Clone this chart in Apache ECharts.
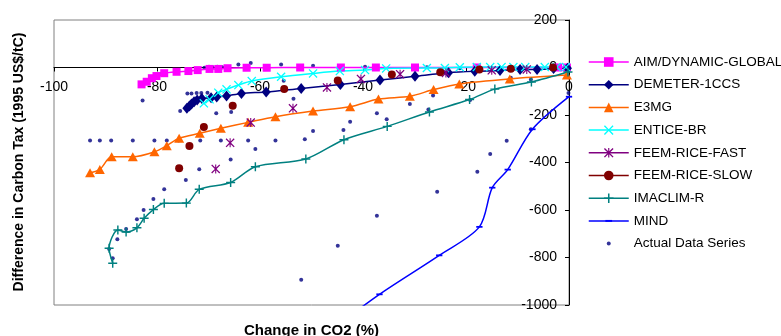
<!DOCTYPE html>
<html><head><meta charset="utf-8">
<script src="https://cdn.jsdelivr.net/npm/echarts@6/dist/echarts.min.js"></script>
<style>html,body{margin:0;padding:0;background:#fff}#c{width:781px;height:336px}</style>
</head><body><div id="c"></div>
<script>
const xTicks = [-100, -80, -60, -40, -20, 0];
const yTicks = [200, 0, -200, -400, -600, -800, -1000];
const seriesNames = ['AIM/DYNAMIC-GLOBAL','DEMETER-1CCS','E3MG','ENTICE-BR','FEEM-RICE-FAST','FEEM-RICE-SLOW','IMACLIM-R','MIND','Actual Data Series'];

const aim = [[-83.0,-71],[-82.0,-60],[-81.0,-45],[-80.1,-36],[-78.6,-24],[-76.2,-18],[-73.9,-15],[-72.1,-11],[-69.8,-6],[-68.1,-6],[-66.3,-3],[-62.6,-1],[-58.7,-1],[-52.2,0],[-44.3,0],[-37.5,0],[-29.9,0],[-17.9,0],[-2.1,0],[-0.4,0]];
const demeter = [[-74.2,-172],[-73.7,-162],[-73.3,-154],[-72.8,-144],[-72.2,-137],[-71.3,-130],[-69.5,-127],[-68.4,-124],[-66.5,-120],[-63.6,-109],[-58.8,-103],[-52.0,-88],[-44.4,-72],[-36.7,-53],[-29.9,-37],[-23.4,-22],[-18.3,-16],[-13.4,-13],[-9.5,-8],[-6.2,-8],[-3.0,-4],[-0.3,-3]];
const e3mg = [[-93.0,-443],[-91.1,-429],[-88.8,-376],[-84.7,-376],[-80.5,-355],[-78.1,-329],[-75.7,-298],[-71.7,-277],[-67.6,-256],[-62.3,-231],[-57.0,-207],[-49.7,-183],[-42.5,-165],[-37.0,-133],[-30.9,-121],[-26.3,-93],[-21.3,-69],[-11.5,-48],[-0.4,-32]];
const entice = [[-70.9,-151],[-69.8,-134],[-68.1,-106],[-66.5,-92],[-64.2,-74],[-61.6,-57],[-55.9,-39],[-49.7,-25],[-44.5,-15],[-39.6,-11],[-35.5,-4],[-27.6,-2],[-24.1,-2],[-21.2,1],[-17.9,2],[-15.3,2],[-13.1,2],[-10.8,2],[-8.5,2],[-4.7,2],[-2.4,2],[-0.6,2]];
const feemFast = [[-68.6,-427],[-65.8,-317],[-61.8,-232],[-53.6,-172],[-47.0,-84],[-40.4,-48],[-32.8,-28],[-23.9,-23],[-15.0,-12],[-8.2,-8]];
const feemSlow = [[-75.7,-424],[-73.7,-331],[-70.9,-250],[-65.3,-161],[-55.3,-91],[-44.9,-55],[-34.4,-29],[-25.0,-20],[-17.4,-8],[-11.3,-5],[-3.1,0]];
const imaclim = [[-88.6,-824],[-89.3,-761],[-87.6,-684],[-86.0,-693],[-83.9,-675],[-82.5,-635],[-80.7,-598],[-78.6,-572],[-74.3,-571],[-71.8,-513],[-65.7,-484],[-60.9,-418],[-51.1,-385],[-43.7,-304],[-35.3,-248],[-27.1,-187],[-19.3,-135],[-14.4,-91],[-7.3,-61],[-0.2,-19]];
const mind = [[-44.0,-1070],[-36.8,-955],[-25.2,-791],[-17.4,-671],[-14.9,-506],[-11.9,-430],[-7.1,-260],[0,-123]];
const actual = [[-80.2,-32],[-79.4,-27],[-78.3,-20],[-70.8,-1],[-69.9,3],[-69.2,1],[-68.3,3],[-67.3,1],[-66.2,-3],[-64.2,13],[-61.8,19],[-55.9,13],[-49.7,7],[-39.6,3],[-29.8,4],[-27.6,1],[-21.2,-3],[-24.4,-18],
[-82.8,-139],[-75.5,-183],[-74.1,-109],[-73.3,-109],[-72.3,-107],[-71.4,-107],[-70.2,-106],[-68.5,-193],[-65.6,-187],[-55.4,-56],[-53.5,-132],[-42.5,-228],[-37.3,-193],[-35.4,-218],[-30.9,-154],[-27.3,-177],[-26.4,-118],[-19.2,-137],[-11.3,-43],[-7.4,-51],[-0.1,-107],
[-93.0,-307],[-91.1,-307],[-88.9,-307],[-84.7,-307],[-80.5,-307],[-78.1,-307],[-75.8,-307],[-71.6,-307],[-67.6,-307],[-62.3,-307],[-57.0,-307],[-51.3,-302],[-49.7,-267],[-43.8,-263],[-60.9,-343],[-65.7,-387],[-71.8,-428],
[-74.4,-474],[-78.6,-513],[-80.7,-554],[-82.6,-600],[-83.9,-639],[-86.0,-680],[-87.7,-723],[-89.3,-764],[-88.6,-803],
[-52.0,-894],[-44.9,-750],[-37.3,-624],[-25.6,-523],[-17.8,-439],[-15.3,-364],[-12.1,-308],[-7.4,-260]];

const FONT = 'Liberation Sans, Arial, sans-serif';
const symX = 'path://M0,1L1,0L5,4L9,0L10,1L6,5L10,9L9,10L5,6L1,10L0,9L4,5Z';
const symPlus = 'path://M4.2,0H5.8V4.2H10V5.8H5.8V10H4.2V5.8H0V4.2H4.2Z';
const symStar = 'path://M0,1L1,0L5,4L9,0L10,1L6,5L10,9L9,10L5,6L1,10L0,9L4,5Z M4.4,0H5.6V10H4.4Z';
const symDash = 'path://M0,0L0,0M10,10L10,10M1.5,4H8.5V6H1.5Z';
const symDot = 'path://M0,0L0,0M20,20L20,20M10,6.7A3.3,3.3 0 1,1 10,13.3A3.3,3.3 0 1,1 10,6.7Z';

const GRID_TOP = 20, GRID_H = 285;
const zeroOffset = GRID_H * (yTicks[0] - 0) / (yTicks[0] - yTicks[yTicks.length - 1]);

function lineSeries(name, data, color, symbol, size, showLine) {
  return {
    name, type: 'line', data, smooth: 0.3,
    symbol, symbolSize: size, showSymbol: true,
    lineStyle: { color, width: showLine ? 1.5 : 0 },
    itemStyle: { color, borderWidth: 0 },
    emphasis: { disabled: true }, animation: false, clip: true
  };
}
const plain = function (v) { return String(v); };

const chart = echarts.init(document.getElementById('c'));
chart.setOption({
  animation: false,
  grid: { left: 54, top: GRID_TOP, width: 515, height: GRID_H, show: true, borderColor: '#808080', borderWidth: 1, backgroundColor: 'transparent' },
  xAxis: {
    type: 'value', min: xTicks[0], max: xTicks[xTicks.length - 1], interval: 20,
    position: 'top', offset: -zeroOffset,
    axisLine: { onZero: false, lineStyle: { color: '#000', width: 1 } },
    axisTick: { show: true, inside: true, length: 4, lineStyle: { color: '#000' } },
    axisLabel: { inside: true, color: '#000', fontFamily: FONT, fontSize: 14, margin: 13, formatter: plain, showMinLabel: true, showMaxLabel: true, hideOverlap: false },
    splitLine: { show: false }
  },
  yAxis: {
    type: 'value', min: yTicks[yTicks.length - 1], max: yTicks[0], interval: 200,
    position: 'right', offset: 0,
    axisLine: { show: true, onZero: false, lineStyle: { color: '#000', width: 1 } },
    axisTick: { show: true, inside: true, length: 4, lineStyle: { color: '#000' } },
    axisLabel: { inside: true, color: '#000', fontFamily: FONT, fontSize: 14, margin: 12, formatter: plain, showMinLabel: true, showMaxLabel: true, hideOverlap: false },
    splitLine: { show: false }
  },
  legend: {
    orient: 'vertical', left: 583, top: 50, itemWidth: 40, itemHeight: 12, itemGap: 8.7,
    textStyle: { color: '#000', fontFamily: FONT, fontSize: 13.5 },
    lineStyle: { width: 1.5 },
    selectedMode: false,
    data: seriesNames.map(function (n) {
      if (n === 'Actual Data Series') return { name: n, icon: symDot };
      return { name: n };
    })
  },
  graphic: [
    { type: 'text', x: 19, y: 162, rotation: Math.PI / 2,
      style: { text: 'Difference in Carbon Tax (1995 US$/tC)', font: 'bold 14px ' + FONT, fill: '#000', align: 'center', verticalAlign: 'middle', textAlign: 'center', textVerticalAlign: 'middle' } },
    { type: 'text', x: 311.5, y: 331,
      style: { text: 'Change in CO2 (%)', font: 'bold 15px ' + FONT, fill: '#000', align: 'center', verticalAlign: 'middle', textAlign: 'center', textVerticalAlign: 'middle' } }
  ],
  series: [
    lineSeries(seriesNames[0], aim, '#FF00FF', 'rect', 8, true),
    lineSeries(seriesNames[1], demeter, '#000080', 'diamond', [9, 11], true),
    lineSeries(seriesNames[2], e3mg, '#FF6600', 'triangle', [10, 9], true),
    lineSeries(seriesNames[3], entice, '#00FFFF', symX, 9, true),
    lineSeries(seriesNames[4], feemFast, '#800080', symStar, 9, false),
    lineSeries(seriesNames[5], feemSlow, '#800000', 'circle', 8, false),
    lineSeries(seriesNames[6], imaclim, '#008080', symPlus, 9, true),
    lineSeries(seriesNames[7], mind, '#0000FF', symDash, 9, true),
    { name: seriesNames[8], type: 'scatter', data: actual, symbol: 'circle', symbolSize: 4,
      itemStyle: { color: '#000080' }, emphasis: { disabled: true }, animation: false }
  ]
});
</script></body></html>
